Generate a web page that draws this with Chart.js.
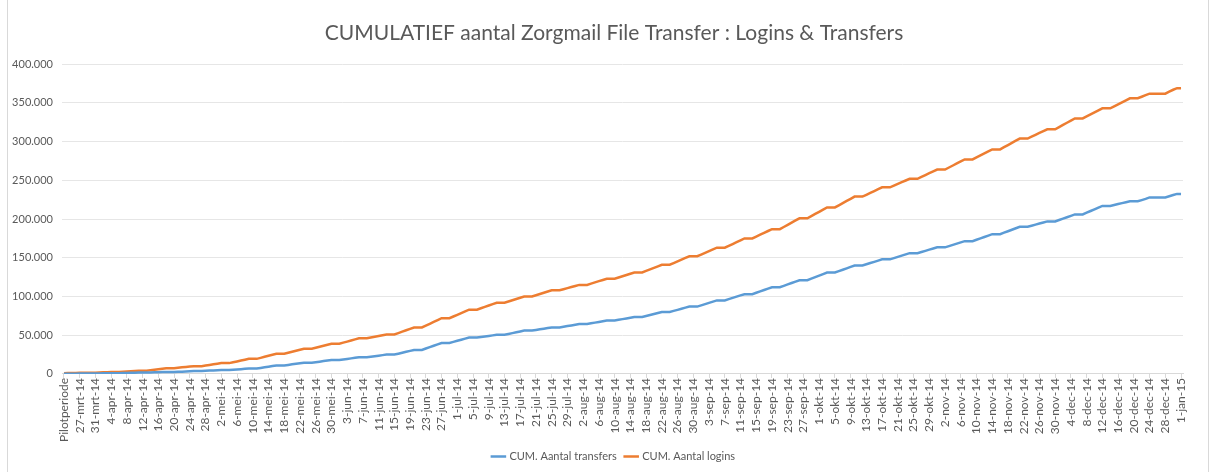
<!DOCTYPE html>
<html>
<head>
<meta charset="utf-8">
<script src="https://cdn.jsdelivr.net/npm/chart.js@4/dist/chart.umd.min.js"></script>
<style>
  html, body { margin: 0; padding: 0; background: #fff; }
  #wrap { position: absolute; left: 7px; top: 0; width: 1200px; height: 472px; border-left: 1px solid #d9d9d9; border-right: 1px solid #d9d9d9; }
  #chart { position: absolute; left: 0; top: 0; }
</style>
</head>
<body>
<canvas id="chart" width="1217" height="472"></canvas>
<div id="wrap"></div>
<script>
// maanden voor de datumlabels
const maanden = ["jan","feb","mrt","apr","mei","jun","jul","aug","sep","okt","nov","dec"];
const eersteLabel = "Pilotperiode";
const startDatum = Date.UTC(2014, 2, 24); // 24-mrt-14
const aantalDagen = 284; // t/m 1-jan-15

const yTicks = [0, 50000, 100000, 150000, 200000, 250000, 300000, 350000, 400000];

// CUM. Aantal transfers (per dag)
const transfers = [300,
  300,400,400,500,500,500,500,
  600,700,800,900,1000,1000,1000,
  1200,1300,1500,1600,1800,1800,1800,
  1900,2100,2200,2400,2500,2500,2500,
  2800,3000,3300,3500,3800,3800,3800,
  4000,4300,4500,4800,5000,5000,5000,
  5400,5800,6200,6600,7000,7000,7000,
  7800,8600,9400,10200,11000,11000,11000,
  11700,12400,13100,13800,14500,14500,14500,
  15200,15900,16600,17300,18000,18000,18000,
  18700,19400,20100,20800,21500,21500,21500,
  22200,22900,23600,24300,25000,25000,25000,
  26200,27400,28600,29800,31000,31000,31000,
  32800,34600,36400,38200,40000,40000,40000,
  41400,42800,44200,45600,47000,47000,47000,
  47700,48400,49100,49800,50500,50500,50500,
  51600,52700,53800,54900,56000,56000,56000,
  56800,57600,58400,59200,60000,60000,60000,
  60900,61800,62700,63600,64500,64500,64500,
  65400,66300,67200,68100,69000,69000,69000,
  69900,70800,71700,72600,73500,73500,73500,
  74800,76100,77400,78700,80000,80000,80000,
  81400,82800,84200,85600,87000,87000,87000,
  88600,90200,91800,93400,95000,95000,95000,
  96600,98200,99800,101400,103000,103000,103000,
  104800,106600,108400,110200,112000,112000,112000,
  113800,115600,117400,119200,121000,121000,121000,
  123000,125000,127000,129000,131000,131000,131000,
  132800,134600,136400,138200,140000,140000,140000,
  141600,143200,144800,146400,148000,148000,148000,
  149600,151200,152800,154400,156000,156000,156000,
  157500,159000,160500,162000,163500,163500,163500,
  165100,166700,168300,169900,171500,171500,171500,
  173300,175100,176900,178700,180500,180500,180500,
  182400,184300,186200,188100,190000,190000,190000,
  191400,192800,194200,195600,197000,197000,197000,
  198800,200600,202400,204200,206000,206000,206000,
  208200,210400,212600,214800,217000,217000,217000,
  218200,219400,220600,221800,223000,223000,223000,
  224500,226000,228000,228000,228000,228000,228000,
  229500,231000,232500,232500];

// CUM. Aantal logins (per dag)
const logins = [1000,
  1100,1200,1300,1400,1500,1500,1500,
  1700,1900,2100,2300,2500,2500,2500,
  2800,3100,3400,3700,4000,4000,4000,
  4700,5400,6100,6800,7500,7500,7500,
  8000,8500,9000,9500,10000,10000,10000,
  10800,11600,12400,13200,14000,14000,14000,
  15100,16200,17300,18400,19500,19500,19500,
  20800,22100,23400,24700,26000,26000,26000,
  27300,28600,29900,31200,32500,32500,32500,
  33800,35100,36400,37700,39000,39000,39000,
  40400,41800,43200,44600,46000,46000,46000,
  47000,48000,49000,50000,51000,51000,51000,
  52800,54600,56400,58200,60000,60000,60000,
  62400,64800,67200,69600,72000,72000,72000,
  74200,76400,78600,80800,83000,83000,83000,
  84800,86600,88400,90200,92000,92000,92000,
  93600,95200,96800,98400,100000,100000,100000,
  101600,103200,104800,106400,108000,108000,108000,
  109400,110800,112200,113600,115000,115000,115000,
  116600,118200,119800,121400,123000,123000,123000,
  124600,126200,127800,129400,131000,131000,131000,
  133000,135000,137000,139000,141000,141000,141000,
  143200,145400,147600,149800,152000,152000,152000,
  154200,156400,158600,160800,163000,163000,163000,
  165400,167800,170200,172600,175000,175000,175000,
  177400,179800,182200,184600,187000,187000,187000,
  189800,192600,195400,198200,201000,201000,201000,
  203800,206600,209400,212200,215000,215000,215000,
  217800,220600,223400,226200,229000,229000,229000,
  231400,233800,236200,238600,241000,241000,241000,
  243200,245400,247600,249800,252000,252000,252000,
  254400,256800,259200,261600,264000,264000,264000,
  266600,269200,271800,274400,277000,277000,277000,
  279600,282200,284800,287400,290000,290000,290000,
  292800,295600,298400,301200,304000,304000,304000,
  306400,308800,311200,313600,316000,316000,316000,
  318800,321600,324400,327200,330000,330000,330000,
  332600,335200,337800,340400,343000,343000,343000,
  345600,348200,350800,353400,356000,356000,356000,
  358000,360000,362000,362000,362000,362000,362000,
  364500,367000,369000,369000];

// labels: Pilotperiode + elke dag
const labels = [eersteLabel];
for (let i = 0; i < aantalDagen; i++) {
  const d = new Date(startDatum + i * 86400000);
  labels.push(d.getUTCDate() + "-" + maanden[d.getUTCMonth()] + "-" + String(d.getUTCFullYear()).slice(2));
}

function nlGetal(v) {
  return String(v).replace(/\B(?=(\d{3})+(?!\d))/g, ".");
}

const grijs = "#595959";
const FONT = "Lato, 'Open Sans', sans-serif";

new Chart(document.getElementById("chart"), {
  type: "line",
  data: {
    labels: labels,
    datasets: [
      { label: "CUM. Aantal transfers", data: transfers, borderColor: "#5B9BD5", backgroundColor: "#5B9BD5", borderWidth: 2.5, pointRadius: 0, tension: 0 },
      { label: "CUM. Aantal logins", data: logins, borderColor: "#ED7D31", backgroundColor: "#ED7D31", borderWidth: 2.5, pointRadius: 0, tension: 0 }
    ]
  },
  options: {
    responsive: false,
    animation: false,
    // links veel padding zodat titel en legenda rond x=614 centreren; y-labels lopen er buiten
    layout: { padding: { left: 45, right: 34, top: 0, bottom: 0 } },
    plugins: {
      title: {
        display: true,
        text: "CUMULATIEF aantal Zorgmail File Transfer : Logins & Transfers",
        color: grijs,
        font: { family: FONT, size: 21, weight: "normal" },
        padding: { top: 21, bottom: 18 }
      },
      legend: {
        position: "bottom",
        labels: {
          color: grijs,
          font: { family: FONT, size: 11 },
          usePointStyle: true,
          pointStyle: "line",
          boxWidth: 26,
          padding: 9
        }
      },
      tooltip: { enabled: false }
    },
    scales: {
      x: {
        offset: true,
        grid: { display: true, drawOnChartArea: false, color: "#d9d9d9", tickLength: 4 },
        border: { color: "#d9d9d9" },
        ticks: {
          autoSkip: false,
          maxRotation: 90,
          minRotation: 90,
          padding: 0,
          color: grijs,
          font: { family: FONT, size: 12 },
          callback: function (val, i) { return i % 4 === 0 ? labels[i] : null; }
        }
      },
      y: {
        min: 0,
        max: 400000,
        afterBuildTicks: function (axis) { axis.ticks = yTicks.map(v => ({ value: v })); },
        afterFit: function (axis) {
          axis.width = 17;
          // labels niet afknippen op de smalle as
          axis._computeLabelArea = () => undefined;
        },
        grid: { color: "#e6e6e6", drawTicks: false },
        border: { display: false },
        ticks: {
          color: grijs,
          padding: 9,
          font: { family: FONT, size: 11 },
          callback: v => nlGetal(v)
        }
      }
    }
  }
});
</script>
</body>
</html>
